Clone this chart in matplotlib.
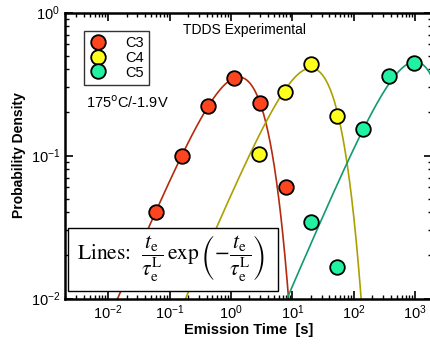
import numpy as np
import matplotlib
matplotlib.use('Agg')
import matplotlib.pyplot as plt
from matplotlib.patches import Rectangle
from matplotlib.lines import Line2D

plt.rcParams['font.family'] = ['Liberation Sans', 'DejaVu Sans']

# measured points
c3_t = [0.060, 0.157, 0.417, 1.12, 2.96, 7.8]
c3_p = [0.040, 0.100, 0.222, 0.347, 0.234, 0.0605]
c4_t = [2.9, 7.6, 20.1, 53.8]
c4_p = [0.102, 0.277, 0.434, 0.190]
c5_t = [20.1, 53.8, 143.0, 378.0, 967.0]
c5_p = [0.034, 0.0167, 0.152, 0.360, 0.446]

# line parameters (tau_e^L and amplitude)
names = ['C3', 'C4', 'C5']
taus = [1.35, 20.0, 1000.0]
amps = [0.96, 1.11, 1.23]
fill_colors = ['#ff4420', '#ffff1e', '#20f2a2']
line_colors = ['#b52a0e', '#aca000', '#119a72']
xticks = [1e-2, 1e-1, 1e0, 1e1, 1e2, 1e3]
yticks = [1e-2, 1e-1, 1e0]

fig = plt.figure(figsize=(4.30, 3.44), dpi=100)
ax = fig.add_axes([65/430, 1-298.5/344, 367/430, 286/344])

t = np.logspace(-3, 4, 800)
series = [(c3_t, c3_p), (c4_t, c4_p), (c5_t, c5_p)]
for i, (tx, py) in enumerate(series):
    curve = amps[i] * (t / taus[i]) * np.exp(-t / taus[i])
    ax.plot(t, curve, color=line_colors[i], lw=1.2, zorder=2)
for i, (tx, py) in enumerate(series):
    ax.plot(tx, py, 'o', ms=10.5, mfc=fill_colors[i], mec='black', mew=1.3, zorder=5)

ax.set_xscale('log')
ax.set_yscale('log')
ax.set_xlim(10**-2.704, 10**3.275)
ax.set_ylim(1e-2, 1e0)
ax.set_xticks(xticks)
ax.set_yticks(yticks)
ax.tick_params(which='both', direction='in', top=True, right=True, labelsize=10.5)
ax.tick_params(which='major', length=6, width=1.2)
ax.tick_params(which='minor', length=3, width=1.0)
for s in ax.spines.values():
    s.set_linewidth(1.8)

ax.set_xlabel('Emission Time  [s]', fontsize=10.5, fontweight='bold', labelpad=1)
ax.set_ylabel('Probability Density', fontsize=10, fontweight='bold', labelpad=3)

ax.text(0.322, 0.925, 'TDDS Experimental', transform=ax.transAxes, fontsize=10)
ax.text(0.058, 0.665, r'175$^\mathrm{o}$C/-1.9V', transform=ax.transAxes, fontsize=10.5)

handles = [Line2D([], [], ls='none', marker='o', ms=10.5, mfc=fill_colors[i],
                  mec='black', mew=1.3) for i in range(3)]
leg = ax.legend(handles, names, loc='upper left', bbox_to_anchor=(84/430, 1-31/344),
                bbox_transform=fig.transFigure, fontsize=10.5, frameon=True, fancybox=False,
                labelspacing=0.05, handletextpad=1.3, borderpad=0.35, handlelength=1.2,
                borderaxespad=0)
leg.get_frame().set_edgecolor('black')
leg.get_frame().set_linewidth(1.0)

box = Rectangle((68/430, 1-291/344), 210/430, 63/344, transform=fig.transFigure,
                facecolor='white', edgecolor='black', lw=1.0, zorder=6)
fig.patches.append(box)
fig.text(77/430, 1-259/344,
         r'Lines:  $\dfrac{t_\mathrm{e}}{\tau_\mathrm{e}^\mathrm{L}}\,\exp\left(-\dfrac{t_\mathrm{e}}{\tau_\mathrm{e}^\mathrm{L}}\right)$',
         family=['STIXGeneral', 'DejaVu Serif'], math_fontfamily='stix', fontsize=15.5,
         va='center', ha='left', zorder=7)

fig.savefig('out.png', dpi=100)
